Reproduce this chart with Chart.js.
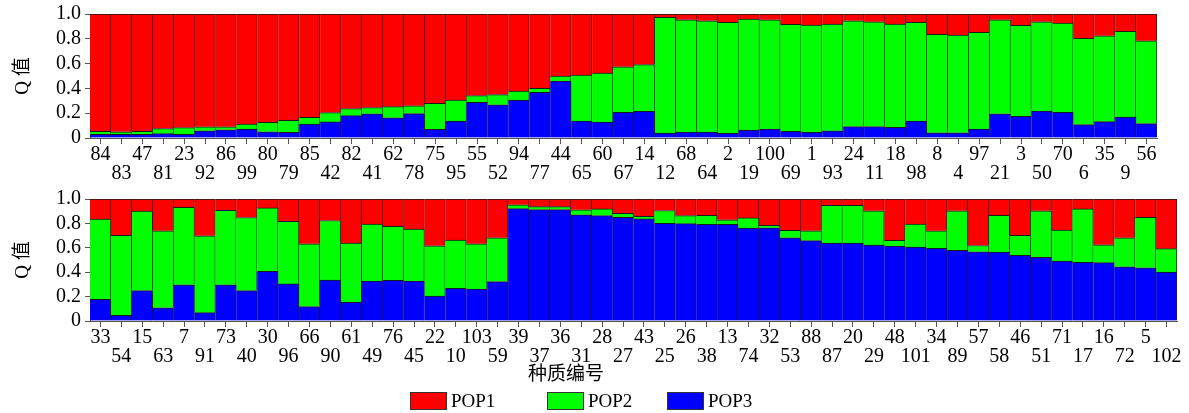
<!DOCTYPE html>
<html>
<head>
<meta charset="utf-8">
<script src="https://cdn.jsdelivr.net/npm/chart.js@4.4.1/dist/chart.umd.min.js"></script>
<style>
  html, body { margin: 0; padding: 0; background: #fff; }
  body { width: 1189px; height: 413px; position: relative; overflow: hidden; }
  canvas { position: absolute; }
  #topChart { left: 0; top: 0; }
  #bottomChart { left: -45px; top: 185px; }
  #legend { position: absolute; left: 0; top: 392px; width: 1189px; height: 18px;
            font: 19px 'Liberation Serif', serif; color: #000; }
  .item { position: absolute; top: 0; height: 18px; display: flex; align-items: center; }
  .swatch { width: 35px; height: 16px; border: 1px solid #333; margin-right: 4px; }
</style>
</head>
<body>
<canvas id="topChart" width="1189" height="185"></canvas>
<canvas id="bottomChart" width="1234" height="228"></canvas>
<div id="legend"></div>
<script>
// germplasm ids, in plotted order
const topIds = ['84', '83', '47', '81', '23', '92', '86', '99', '80', '79',
  '85', '42', '82', '41', '62', '78', '75', '95', '55', '52',
  '94', '77', '44', '65', '60', '67', '14', '12', '68', '64',
  '2', '19', '100', '69', '1', '93', '24', '11', '18', '98',
  '8', '4', '97', '21', '3', '50', '70', '6', '35', '9', '56']
const topPop3 = [0.03, 0.03, 0.03, 0.035, 0.03, 0.058, 0.066, 0.071, 0.05, 0.045,
  0.113, 0.13, 0.18, 0.195, 0.163, 0.197, 0.07, 0.137, 0.287, 0.268,
  0.305, 0.368, 0.46, 0.137, 0.129, 0.208, 0.216, 0.04, 0.047, 0.047,
  0.037, 0.063, 0.071, 0.053, 0.045, 0.058, 0.092, 0.092, 0.087, 0.137,
  0.042, 0.042, 0.071, 0.195, 0.174, 0.218, 0.208, 0.108, 0.132, 0.168, 0.116]
const topPop2 = [0.023, 0.02, 0.023, 0.041, 0.054, 0.032, 0.024, 0.042, 0.076, 0.097,
  0.053, 0.075, 0.057, 0.05, 0.09, 0.063, 0.21, 0.168, 0.055, 0.082,
  0.074, 0.032, 0.04, 0.371, 0.395, 0.366, 0.376, 0.934, 0.906, 0.898,
  0.895, 0.897, 0.882, 0.863, 0.865, 0.86, 0.853, 0.845, 0.831, 0.795,
  0.795, 0.787, 0.782, 0.758, 0.734, 0.719, 0.718, 0.695, 0.692, 0.693, 0.668]
const topPop1 = [0.947, 0.95, 0.947, 0.924, 0.916, 0.91, 0.91, 0.887, 0.874, 0.858,
  0.834, 0.795, 0.763, 0.755, 0.747, 0.74, 0.72, 0.695, 0.658, 0.65,
  0.621, 0.6, 0.5, 0.492, 0.476, 0.426, 0.408, 0.026, 0.047, 0.055,
  0.068, 0.04, 0.047, 0.084, 0.09, 0.082, 0.055, 0.063, 0.082, 0.068,
  0.163, 0.171, 0.147, 0.047, 0.092, 0.063, 0.074, 0.197, 0.176, 0.139, 0.216]

const bottomIds = ['33', '54', '15', '63', '7', '91', '73', '40', '30', '96',
  '66', '90', '61', '49', '76', '45', '22', '10', '103', '59',
  '39', '37', '36', '31', '28', '27', '43', '25', '26', '38',
  '13', '74', '32', '53', '88', '87', '20', '29', '48', '101',
  '34', '89', '57', '58', '46', '51', '71', '17', '16', '72', '5', '102']
const bottomPop3 = [0.178, 0.047, 0.249, 0.108, 0.297, 0.068, 0.297, 0.249, 0.407, 0.304,
  0.118, 0.336, 0.155, 0.328, 0.333, 0.328, 0.205, 0.268, 0.262, 0.323,
  0.921, 0.913, 0.913, 0.871, 0.864, 0.85, 0.837, 0.8, 0.798, 0.793,
  0.793, 0.761, 0.764, 0.682, 0.659, 0.638, 0.638, 0.622, 0.614, 0.606,
  0.596, 0.58, 0.567, 0.564, 0.538, 0.522, 0.491, 0.48, 0.478, 0.444, 0.436, 0.402]
const bottomPop2 = [0.657, 0.656, 0.651, 0.632, 0.635, 0.63, 0.611, 0.599, 0.52, 0.512,
  0.515, 0.488, 0.483, 0.467, 0.444, 0.425, 0.412, 0.396, 0.371, 0.359,
  0.032, 0.024, 0.024, 0.04, 0.055, 0.032, 0.021, 0.106, 0.066, 0.073,
  0.037, 0.084, 0.021, 0.061, 0.081, 0.31, 0.31, 0.281, 0.047, 0.189,
  0.144, 0.323, 0.052, 0.302, 0.165, 0.381, 0.254, 0.439, 0.147, 0.238, 0.414, 0.191]
const bottomPop1 = [0.165, 0.297, 0.1, 0.26, 0.068, 0.302, 0.092, 0.152, 0.073, 0.184,
  0.367, 0.176, 0.362, 0.205, 0.223, 0.247, 0.383, 0.336, 0.367, 0.318,
  0.047, 0.063, 0.063, 0.089, 0.081, 0.118, 0.142, 0.094, 0.136, 0.134,
  0.17, 0.155, 0.215, 0.257, 0.26, 0.052, 0.052, 0.097, 0.339, 0.205,
  0.26, 0.097, 0.381, 0.134, 0.297, 0.097, 0.255, 0.081, 0.375, 0.318, 0.15, 0.407]

const yTickLabels = ['0', '0.2', '0.4', '0.6', '0.8', '1.0']
const seriesNames = ['POP1', 'POP2', 'POP3']
const seriesColors = { POP1: '#ff0000', POP2: '#00ff00', POP3: '#0000ff' }

const serif = "'Liberation Serif', 'Noto Sans CJK SC', serif"
const axisColor = '#555'

// ids alternate between two rows under the axis
const staggered = ids => ids.map((id, i) => (i % 2 === 0 ? [id, ''] : ['', id]))

function buildChart(el, ids, pop1, pop2, pop3, box) {
  const series = { POP1: pop1, POP2: pop2, POP3: pop3 }
  // POP3 sits at the bottom of each stack
  const datasets = ['POP3', 'POP2', 'POP1'].map(name => ({
    label: name,
    data: series[name],
    backgroundColor: seriesColors[name],
    borderColor: '#1a1a1a',
    borderWidth: { top: 1, right: 1, bottom: 0, left: 0 },
    borderSkipped: false,
    categoryPercentage: 1,
    barPercentage: 1
  }))

  return new Chart(el, {
    type: 'bar',
    data: { labels: staggered(ids), datasets },
    options: {
      responsive: false,
      animation: false,
      devicePixelRatio: 1,
      layout: { autoPadding: false, padding: box.padding },
      plugins: {
        legend: { display: false },
        tooltip: { enabled: false },
        title: box.title || { display: false }
      },
      scales: {
        x: {
          stacked: true,
          offset: true,
          afterFit: s => { s.height = box.xHeight },
          grid: { offset: false, drawOnChartArea: false, drawTicks: true, tickLength: 6, color: axisColor },
          border: { display: true, color: axisColor },
          ticks: {
            autoSkip: false, maxRotation: 0, minRotation: 0, padding: 2, color: '#000',
            font: { family: serif, size: 20, lineHeight: 0.92 }
          }
        },
        y: {
          stacked: true,
          min: 0,
          max: 1,
          afterFit: s => { s.width = box.yWidth },
          grid: { drawOnChartArea: false, tickLength: 5, color: axisColor },
          border: { display: true, color: axisColor },
          ticks: {
            stepSize: 0.2, padding: 4, color: '#000',
            font: { family: serif, size: 20, lineHeight: 1 },
            callback: (v, i) => yTickLabels[i]
          },
          title: {
            display: true, text: 'Q 值', color: '#000',
            font: { family: serif, size: 19, lineHeight: 1.2 },
            padding: { top: box.yTitlePad, bottom: 0 }
          }
        }
      }
    }
  })
}

buildChart(document.getElementById('topChart'), topIds, topPop1, topPop2, topPop3, {
  padding: { top: 11, left: 0, right: 32, bottom: 0 },
  xHeight: 47,
  yWidth: 90,
  yTitlePad: 11.6
})

buildChart(document.getElementById('bottomChart'), bottomIds, bottomPop1, bottomPop2, bottomPop3, {
  padding: { top: 9, left: 0, right: 12, bottom: 28 },
  xHeight: 46,
  yWidth: 135,
  yTitlePad: 56.6,
  title: {
    display: true, position: 'bottom', text: '种质编号', color: '#000',
    font: { family: serif, size: 19, lineHeight: 1, weight: 'normal' },
    padding: { top: -1, bottom: 0 }
  }
})

// shared legend under both panels
const legendLefts = { POP1: 410, POP2: 547, POP3: 667 }
const legendEl = document.getElementById('legend')
seriesNames.forEach(name => {
  const item = document.createElement('div')
  item.className = 'item'
  item.style.left = legendLefts[name] + 'px'
  const sw = document.createElement('span')
  sw.className = 'swatch'
  sw.style.background = seriesColors[name]
  const txt = document.createElement('span')
  txt.textContent = name
  item.appendChild(sw)
  item.appendChild(txt)
  legendEl.appendChild(item)
})
</script>
</body>
</html>
